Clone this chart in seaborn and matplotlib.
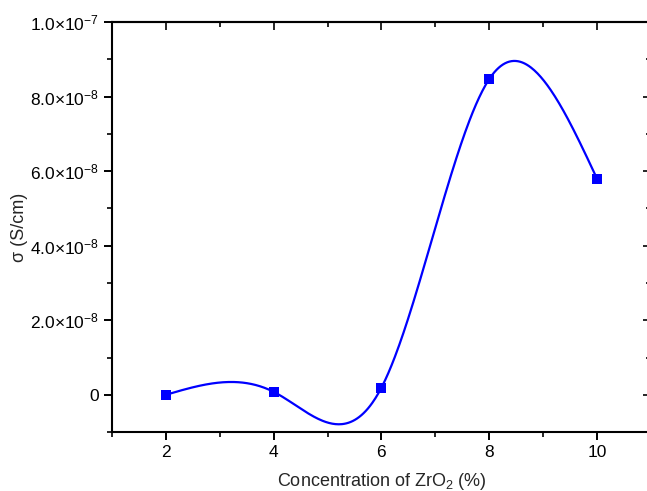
import numpy as np
import pandas as pd
import matplotlib
matplotlib.use("Agg")
import matplotlib.pyplot as plt
import seaborn as sns
from matplotlib.ticker import FixedLocator, MultipleLocator

# Data
concentration = [2, 4, 6, 8, 10]
conductivity = [0.0, 0.08e-8, 0.19e-8, 8.47e-8, 5.80e-8]
x_ticks = [2, 4, 6, 8, 10]
y_ticks = [0, 2e-8, 4e-8, 6e-8, 8e-8, 1e-7]
y_tick_labels = ["0", r"$\mathregular{2.0{\times}10^{-8}}$", r"$\mathregular{4.0{\times}10^{-8}}$",
                 r"$\mathregular{6.0{\times}10^{-8}}$", r"$\mathregular{8.0{\times}10^{-8}}$",
                 r"$\mathregular{1.0{\times}10^{-7}}$"]


def natural_cubic_spline(x, y, xs):
    x = np.asarray(x, float); y = np.asarray(y, float)
    n = len(x)
    h = np.diff(x)
    A = np.zeros((n, n)); b = np.zeros(n)
    A[0, 0] = 1; A[-1, -1] = 1
    for i in range(1, n - 1):
        A[i, i - 1] = h[i - 1]
        A[i, i] = 2 * (h[i - 1] + h[i])
        A[i, i + 1] = h[i]
        b[i] = 3 * ((y[i + 1] - y[i]) / h[i] - (y[i] - y[i - 1]) / h[i - 1])
    c = np.linalg.solve(A, b)
    out = np.empty_like(xs)
    for k, xv in enumerate(xs):
        i = min(max(np.searchsorted(x, xv) - 1, 0), n - 2)
        dx = xv - x[i]
        bi = (y[i + 1] - y[i]) / h[i] - h[i] * (2 * c[i] + c[i + 1]) / 3
        di = (c[i + 1] - c[i]) / (3 * h[i])
        out[k] = y[i] + bi * dx + c[i] * dx ** 2 + di * dx ** 3
    return out


sns.set_theme(style="ticks")
plt.rcParams["font.family"] = ["Liberation Sans", "DejaVu Sans"]
plt.rcParams["mathtext.fontset"] = "custom"
plt.rcParams["mathtext.rm"] = "Liberation Sans"
plt.rcParams["mathtext.it"] = "Liberation Sans:italic"

fig = plt.figure(figsize=(6.47, 4.91), dpi=100)
ax = fig.add_axes([0.173, 0.12, 0.833, 0.835])

xs = np.linspace(concentration[0], concentration[-1], 400)
curve = pd.DataFrame({"x": xs, "y": natural_cubic_spline(concentration, conductivity, xs)})
pts = pd.DataFrame({"x": concentration, "y": conductivity})

sns.lineplot(data=curve, x="x", y="y", ax=ax, color="#0000ff", linewidth=1.6, zorder=2)
sns.scatterplot(data=pts, x="x", y="y", ax=ax, color="#0000ff", marker="s", s=48,
                edgecolor="#0000ff", linewidth=0, zorder=3)

ax.set_xlim(1, 11)
ax.set_ylim(-1e-8, 1e-7)
ax.xaxis.set_major_locator(FixedLocator(x_ticks))
ax.xaxis.set_minor_locator(MultipleLocator(1))
ax.set_yticks(y_ticks)
ax.set_yticklabels(y_tick_labels)
ax.yaxis.set_minor_locator(MultipleLocator(1e-8))

for s in ax.spines.values():
    s.set_linewidth(1.5)
    s.set_color("black")

ax.tick_params(axis="both", which="major", direction="out", length=6, width=1.4,
               labelsize=12.5, colors="black", top=False, right=False)
ax.tick_params(axis="both", which="minor", direction="out", length=3.5, width=1.4,
               top=False, right=False)

# inward ticks on top and right
sec_x = ax.secondary_xaxis("top")
sec_x.xaxis.set_major_locator(FixedLocator(x_ticks))
sec_x.xaxis.set_minor_locator(MultipleLocator(1))
sec_x.tick_params(which="major", direction="in", length=6, width=1.4, labeltop=False)
sec_x.tick_params(which="minor", direction="in", length=3.5, width=1.4)
sec_x.spines["top"].set_linewidth(1.5)

sec_y = ax.secondary_yaxis("right")
sec_y.set_yticks(y_ticks)
sec_y.yaxis.set_minor_locator(MultipleLocator(1e-8))
sec_y.tick_params(which="major", direction="in", length=6, width=1.4, labelright=False)
sec_y.tick_params(which="minor", direction="in", length=3.5, width=1.4)
sec_y.spines["right"].set_linewidth(1.5)

ax.set_xlabel("Concentration of ZrO$_2$ (%)", fontsize=13, labelpad=8)
ax.set_ylabel("σ (S/cm)", fontsize=13, labelpad=1)

fig.savefig("out.png", dpi=100)
